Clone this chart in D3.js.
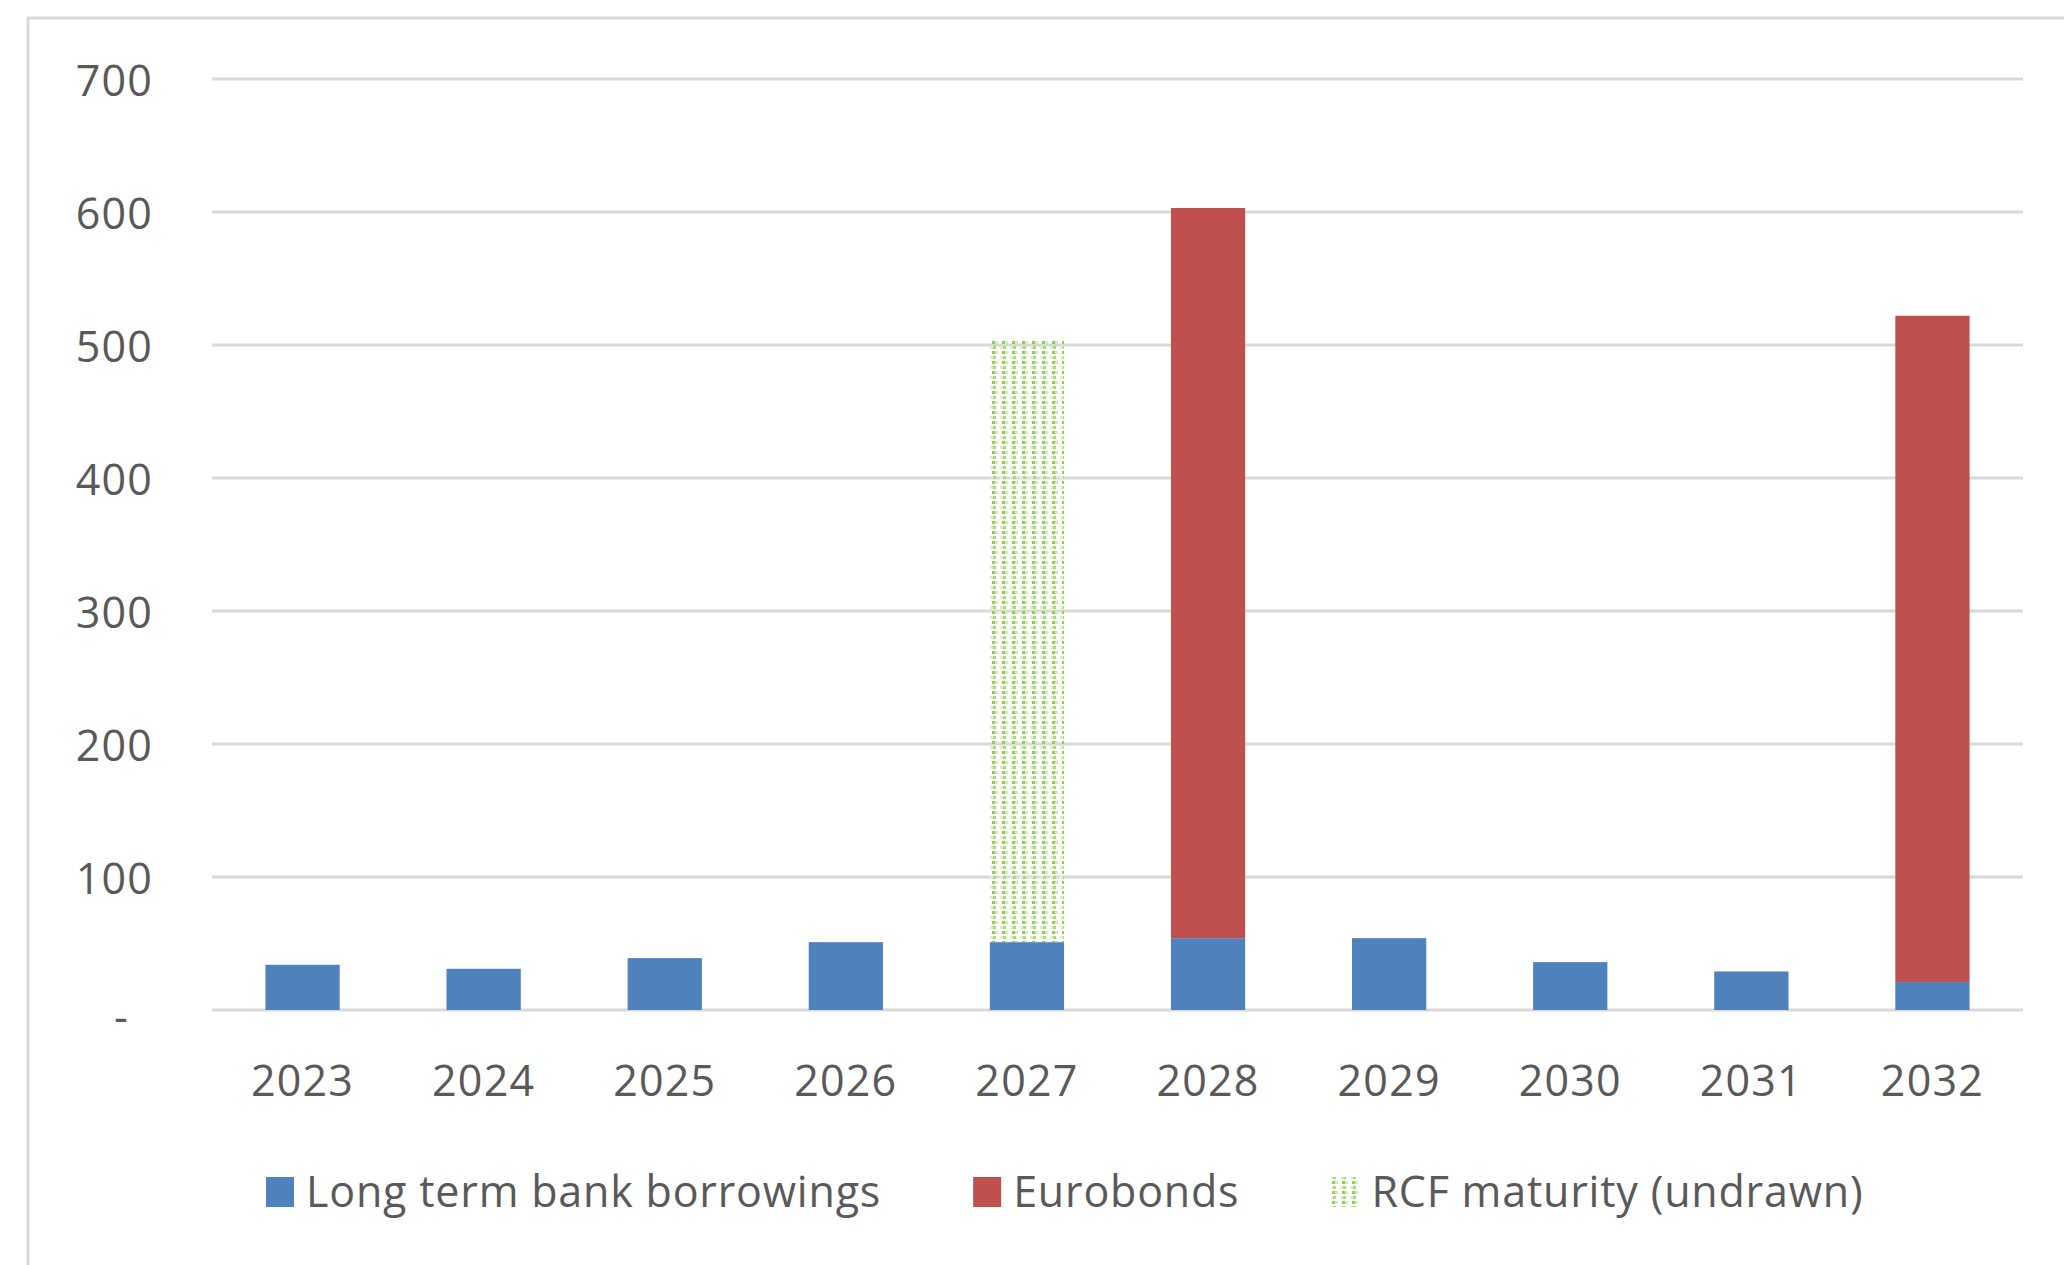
<!DOCTYPE html>
<html>
<head>
<meta charset="utf-8">
<script src="https://cdn.jsdelivr.net/npm/d3@7"></script>
<style>
  html, body { margin: 0; padding: 0; background: #fff; }
  text { font-family: "Open Sans", "Noto Sans", sans-serif; fill: #595959; letter-spacing: 1.2px; }
  .legend text { letter-spacing: 0.8px; }
</style>
</head>
<body>
<div id="chart"></div>
<script>
// data
const years = ["2023", "2024", "2025", "2026", "2027", "2028", "2029", "2030", "2031", "2032"];
const bankBorrowings = [34, 31, 39, 51, 51, 54, 54, 36, 29, 21];
const eurobonds = [0, 0, 0, 0, 0, 549, 0, 0, 0, 501];
const rcfUndrawn = [0, 0, 0, 0, 453, 0, 0, 0, 0, 0];
const yTicks = [0, 100, 200, 300, 400, 500, 600, 700];

const seriesNames = ["Long term bank borrowings", "Eurobonds", "RCF maturity (undrawn)"];
const seriesKeys = ["bank", "euro", "rcf"];

const width = 2064, height = 1265;
const margin = {top: 79, right: 41, bottom: 255, left: 212};
const fontSize = "43px";

const svg = d3.select("#chart")
  .append("svg")
  .attr("width", width)
  .attr("height", height);

// dotted pattern for the undrawn facility
const defs = svg.append("defs");
const pat = defs.append("pattern")
  .attr("id", "rcf")
  .attr("patternUnits", "userSpaceOnUse")
  .attr("width", 10)
  .attr("height", 10);
pat.append("rect").attr("x", 2).attr("y", 1).attr("width", 3).attr("height", 3).attr("fill", "#8fcf4f");
pat.append("rect").attr("x", 5).attr("y", 1).attr("width", 3).attr("height", 3).attr("fill", "#d3ecbc");
pat.append("rect").attr("x", 0).attr("y", 6).attr("width", 3).attr("height", 3).attr("fill", "#dcf0ca");
pat.append("rect").attr("x", 3).attr("y", 6).attr("width", 3).attr("height", 3).attr("fill", "#a8db76");

const colors = {bank: "#4f81bd", euro: "#c0504d", rcf: "url(#rcf)"};

// outer frame
svg.append("rect")
  .attr("x", 28).attr("y", 18)
  .attr("width", width).attr("height", height)
  .attr("fill", "none")
  .attr("stroke", "#d9d9d9")
  .attr("stroke-width", 3);

const x = d3.scaleBand()
  .domain(years)
  .range([margin.left, width - margin.right])
  .paddingInner(0.59)
  .paddingOuter(0.295);

const y = d3.scaleLinear()
  .domain([0, 700])
  .range([height - margin.bottom, margin.top]);

// gridlines
svg.selectAll("line.grid")
  .data(yTicks)
  .enter()
  .append("line")
  .attr("class", "grid")
  .attr("x1", margin.left)
  .attr("x2", width - margin.right)
  .attr("y1", d => y(d))
  .attr("y2", d => y(d))
  .attr("stroke", "#d9d9d9")
  .attr("stroke-width", 3);

// y labels
svg.selectAll("text.ylab")
  .data(yTicks)
  .enter()
  .append("text")
  .attr("class", "ylab")
  .attr("x", d => d === 0 ? 129 : 153)
  .attr("y", d => y(d) + (d === 0 ? 22 : 17))
  .attr("text-anchor", "end")
  .attr("font-size", fontSize)
  .text(d => d === 0 ? "-" : d);

// stack
const rows = years.map((yr, i) => ({year: yr, bank: bankBorrowings[i], euro: eurobonds[i], rcf: rcfUndrawn[i]}));
const stacked = d3.stack().keys(seriesKeys)(rows);

svg.selectAll("g.series")
  .data(stacked)
  .enter()
  .append("g")
  .attr("class", "series")
  .attr("fill", d => colors[d.key])
  .selectAll("rect")
  .data(d => d.filter(p => p[1] - p[0] > 0))
  .enter()
  .append("rect")
  .attr("x", d => x(d.data.year))
  .attr("width", x.bandwidth())
  .attr("y", d => y(d[1]))
  .attr("height", d => y(d[0]) - y(d[1]));

// x labels
svg.selectAll("text.xlab")
  .data(years)
  .enter()
  .append("text")
  .attr("class", "xlab")
  .attr("x", d => x(d) + x.bandwidth() / 2)
  .attr("y", 1096)
  .attr("text-anchor", "middle")
  .attr("font-size", fontSize)
  .text(d => d);

// legend
const legend = svg.append("g").attr("class", "legend");
let lx = 266;
seriesKeys.forEach((k, i) => {
  legend.append("rect")
    .attr("x", lx).attr("y", 1177)
    .attr("width", 28).attr("height", 30)
    .attr("fill", colors[k]);
  const t = legend.append("text")
    .attr("x", lx + 40)
    .attr("y", 1207)
    .attr("font-size", fontSize)
    .text(seriesNames[i]);
  lx += 40 + t.node().getComputedTextLength() + 92;
});
</script>
</body>
</html>
